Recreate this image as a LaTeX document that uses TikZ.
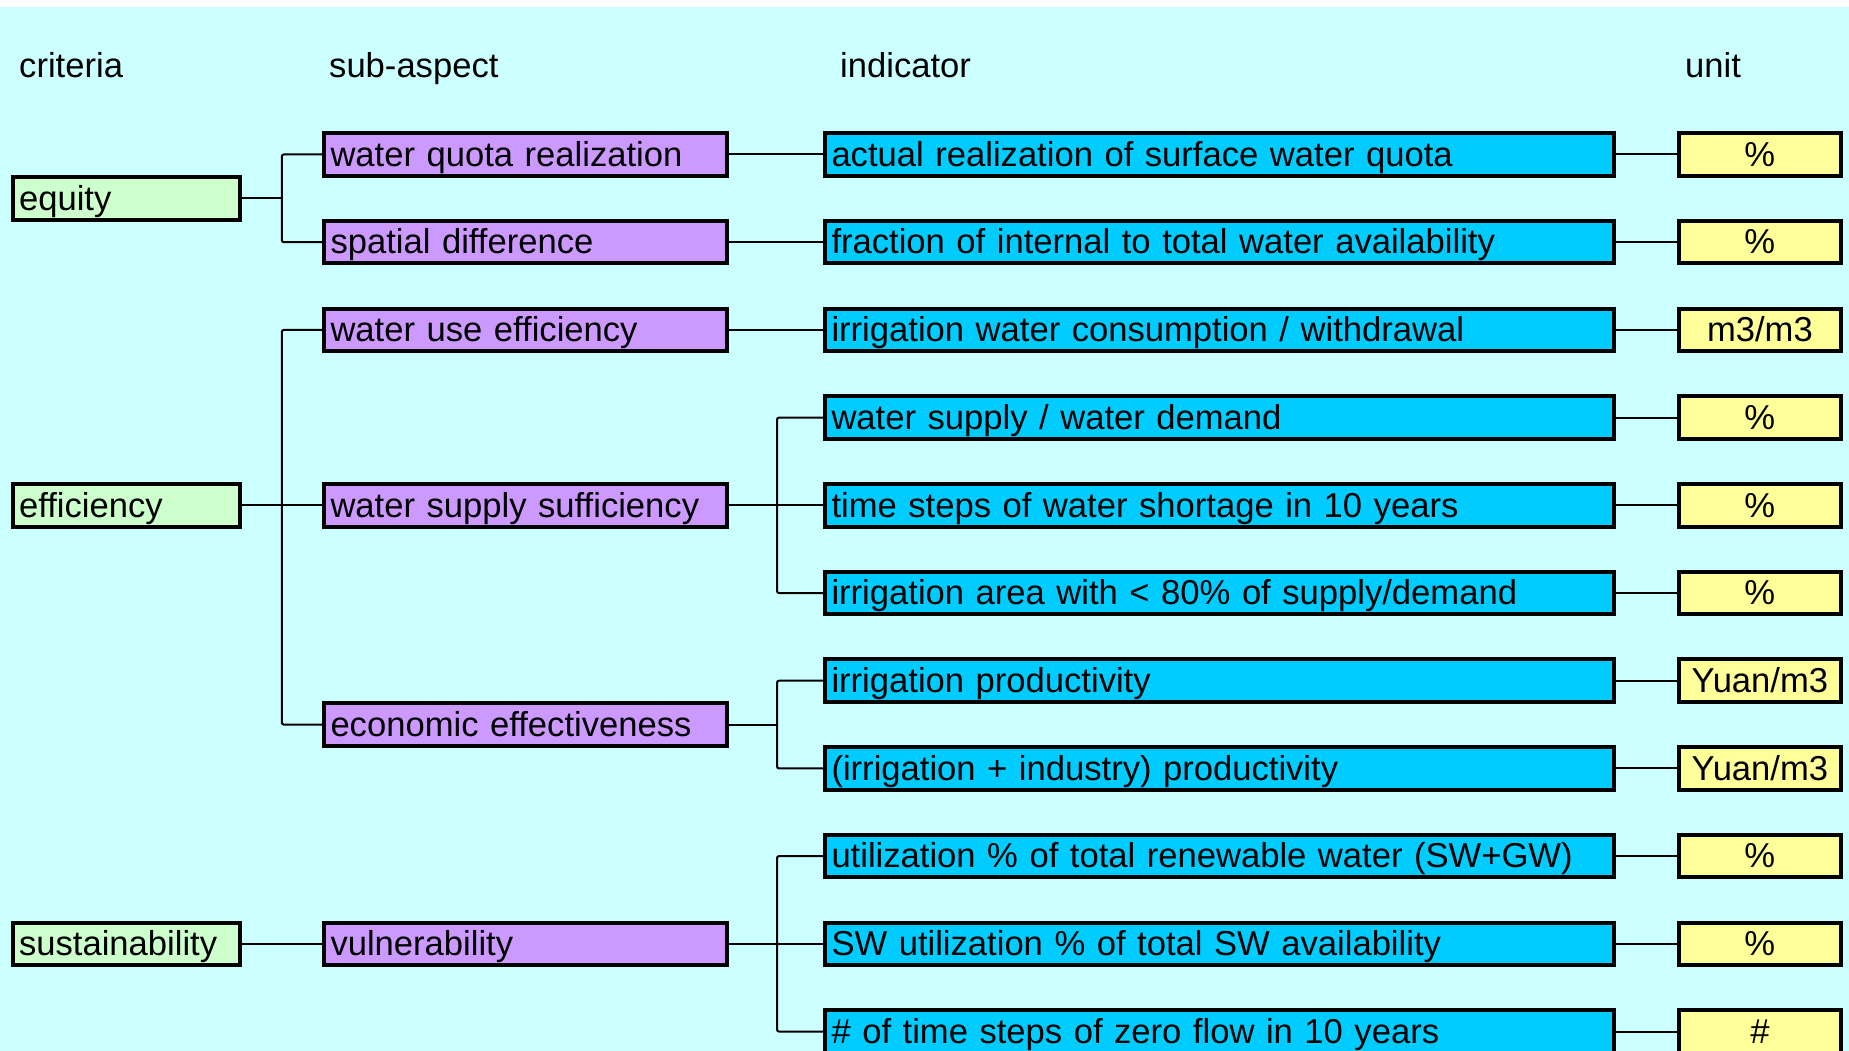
\documentclass[tikz,border=0pt]{standalone}
\usepackage{fontspec}
\setmainfont{Liberation Sans}
\newcommand\bigfnt{\fontsize{34.6}{42}\selectfont}
\definecolor{bgc}{HTML}{CCFFFF}
\definecolor{grn}{HTML}{CCFFCC}
\definecolor{pur}{HTML}{CC99FF}
\definecolor{cyn}{HTML}{00CCFF}
\definecolor{yel}{HTML}{FFFF99}
\tikzset{
  box/.style={draw=black, line width=4pt, rectangle, minimum height=42.5pt,
    inner xsep=6.5pt, inner ysep=0pt, anchor=west, align=left,
    text height=30pt, text depth=6.6pt, font=\bigfnt},
  cA/.style={box, fill=grn, text width=214.3pt},
  cB/.style={box, fill=pur, text width=390.3pt},
  cC/.style={box, fill=cyn, text width=776.3pt},
  cD/.style={box, fill=yel, text width=149.3pt, align=center},
  hdr/.style={anchor=base west, inner sep=0pt, font=\bigfnt},
  conn/.style={draw=black, line width=2pt, rounded corners=2pt},
}
\begin{document}
\begin{tikzpicture}[x=1pt,y=-1pt]
\useasboundingbox (0,0) rectangle (1849,1051);
\clip (0,0) rectangle (1849,1051);
\fill[white] (0,0) rectangle (1849,1051);
\fill[bgc] (0,7) rectangle (1849,1051);

% headers
\node[hdr] (h1) at (19,78) {criteria};
\node[hdr] (h2) at (329,78) {sub-aspect};
\node[hdr] (h3) at (840,78) {indicator};
\node[hdr] (h4) at (1685,78) {unit};

% fork x positions
\coordinate (f1) at (281.8,0);
\coordinate (f2) at (777,0);

% criteria
\node[cA] (eq)  at (10.6,198.35) {equity};
\node[cA] (eff) at (10.6,505.3) {efficiency};
\node[cA] (sus) at (10.6,943.8) {sustainability};

% sub-aspects
\node[cB] (wqr) at (322,154.5) {water quota realization};
\node[cB] (sd)  at (322,242.2) {spatial difference};
\node[cB] (wue) at (322,329.9) {water use efficiency};
\node[cB] (wss) at (322,505.3) {water supply sufficiency};
\node[cB] (ee)  at (322,724.55) {economic effectiveness};
\node[cB] (vul) at (322,943.8) {vulnerability};

% indicators
\node[cC] (i1)  at (823,154.5) {actual realization of surface water quota};
\node[cC] (i2)  at (823,242.2) {fraction of internal to total water availability};
\node[cC] (i3)  at (823,329.9) {irrigation water consumption / withdrawal};
\node[cC] (i4)  at (823,417.6) {water supply / water demand};
\node[cC] (i5)  at (823,505.3) {time steps of water shortage in 10 years};
\node[cC] (i6)  at (823,593.0) {irrigation area with < 80\% of supply/demand};
\node[cC] (i7)  at (823,680.7) {irrigation productivity};
\node[cC] (i8)  at (823,768.4) {(irrigation + industry) productivity};
\node[cC] (i9)  at (823,856.1) {utilization \% of total renewable water (SW+GW)};
\node[cC] (i10) at (823,943.8) {SW utilization \% of total SW availability};
\node[cC] (i11) at (823,1031.5) {\# of time steps of zero flow in 10 years};

% units
\node[cD] (u1)  at (1676.7,154.5) {\%};
\node[cD] (u2)  at (1676.7,242.2) {\%};
\node[cD] (u3)  at (1676.7,329.9) {m3/m3};
\node[cD] (u4)  at (1676.7,417.6) {\%};
\node[cD] (u5)  at (1676.7,505.3) {\%};
\node[cD] (u6)  at (1676.7,593.0) {\%};
\node[cD] (u7)  at (1676.7,680.7) {Yuan/m3};
\node[cD] (u8)  at (1676.7,768.4) {Yuan/m3};
\node[cD] (u9)  at (1676.7,856.1) {\%};
\node[cD] (u10) at (1676.7,943.8) {\%};
\node[cD] (u11) at (1676.7,1031.5) {\#};

% criteria -> sub-aspects
\draw[conn] (eq.east) -- (eq.east -| f1);
\draw[conn] (wqr.west) -| (eq.east -| f1) |- (sd.west);
\draw[conn] (eff.east) -- (wss.west);
\draw[conn] (wue.west) -| (eff.east -| f1) |- (ee.west);
\draw[conn] (sus.east) -- (vul.west);

% sub-aspects -> indicators
\draw[conn] (wqr.east) -- (i1.west);
\draw[conn] (sd.east) -- (i2.west);
\draw[conn] (wue.east) -- (i3.west);
\draw[conn] (wss.east) -- (i5.west);
\draw[conn] (i4.west) -| (wss.east -| f2) |- (i6.west);
\draw[conn] (ee.east) -- (ee.east -| f2);
\draw[conn] (i7.west) -| (ee.east -| f2) |- (i8.west);
\draw[conn] (vul.east) -- (i10.west);
\draw[conn] (i9.west) -| (vul.east -| f2) |- (i11.west);

% indicators -> units
\foreach \k in {1,...,11} { \draw[conn] (i\k.east) -- (u\k.west); }
\end{tikzpicture}
\end{document}
